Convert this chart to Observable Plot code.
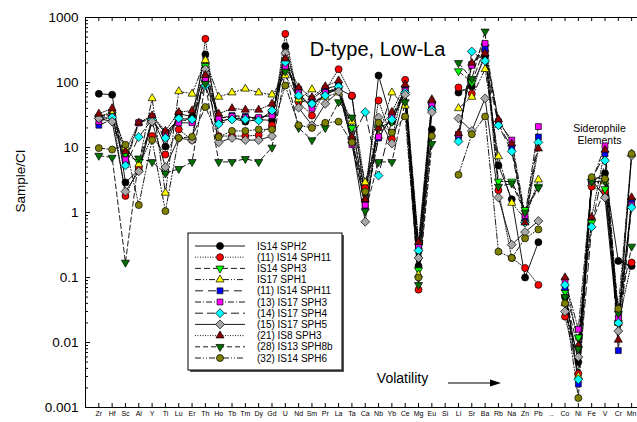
<!DOCTYPE html>
<html>
<head>
<meta charset="utf-8">
<script src="https://cdn.jsdelivr.net/npm/d3@7"></script>
<script src="https://cdn.jsdelivr.net/npm/@observablehq/plot@0.6"></script>
<style>
  body { margin: 0; background: #fff; }
  #chart { position: relative; width: 637px; height: 422px; font-family: "Liberation Sans", Arial, sans-serif; }
  #chart svg { position: absolute; left: 0; top: 0; }
</style>
</head>
<body>
<div id="chart"></div>
<script>
// Element order (volatility increases to the right); ".." separates the siderophiles
const elements = ["Zr","Hf","Sc","Al","Y","Ti","Lu","Er","Th","Ho","Tb","Tm","Dy","Gd","U","Nd","Sm","Pr","La","Ta","Ca","Nb","Yb","Ce","Mg","Eu","Si","Li","Sr","Ba","Rb","Na","Zn","Pb","..","Co","Ni","Fe","V","Cr","Mn"];

// CI-normalised abundances, one array per particle (null = not measured)
const is14sph2   = [67, 65, 2.9, 4.5, 29, 10.4, 33, 30, 270, 25, 28, 25, 27, 26, 360, 60, 45, 65, 80, 62, 1.5, 128, 25, 70, 0.15, 19, null, 70, 87, 250, 5.3, 1.6, 0.1, 0.35, null, 0.05, 0.005, 3.0, 4, 0.18, 0.15];
const is14sph11a = [30, 35, 1.8, 5, 15, 7.8, 19, 13, 470, 15, 15, 15, 15.5, 22, 560, 50, 31, 75, 160, 63, 2.4, 53, 13.5, 110, 0.065, 40, null, 84, 67, 300, 2.2, 0.2, 0.14, 0.077, null, 0.025, 0.0033, 2.5, 2.1, 0.02, 0.17];
const is14sph3   = [28, 32, 8, 6, 25, 15, 28, 27, 180, 25, 28, 28, 28, 33, 220, 55, 45, 70, 80, 20, 2, 20, 25, 80, 0.13, 45, null, 150, 100, 350, 3, 3, 1.1, 2.5, null, 0.06, 0.012, 0.7, 2.3, 0.02, 1.5];
const is17sph1   = [30, 33, 10, 5.5, 57, 2, 73, 67, 220, 60, 70, 80, 70, 65, 128, 55, 78, 60, 70, 25, 2.9, 15, 70, 44, 0.11, 55, null, 40, 60, 160, 7.3, 1.4, 0.8, 3.2, null, 0.04, 0.003, 2.8, 3, 0.02, 8];
const is14sph11b = [22, 27, 5.5, 24, 28, 17, 27, 25, 120, 28, 31, 30, 28, 33, 190, 78, 55, 80, 90, 13, 1.2, 14, 30, 80, 0.28, 42, null, 14.6, 190, 330, 22.5, 10, 0.8, 14.5, null, 0.07, 0.0023, 3.2, 8, 0.0075, 1.4];
const is17sph3   = [25, 30, 6.5, 24, 30, 17, 24, 24, 115, 28, 30, 29, 29, 31, 176, 70, 40, 70, 85, 11, 1.3, 14.6, 30, 75, 0.3, 47, null, 16, 183, 400, 25, 13, 0.9, 21, null, 0.09, 0.016, 3.0, 10.6, 0.024, 1.3];
const is17sph4   = [28, 29, 5.3, 14.5, 27, 14, 28, 27, 90, 23, 27, 27, 26, 37, 205, 63, 47, 63, 87, 14, 35, 3.7, 27, 70, 0.26, 38, null, 12.4, 300, 215, 22, 8.7, 0.7, 12, null, 0.077, 0.0027, 0.6, 6.3, 0.02, 1.2];
const is17sph5   = [28, 25, 2.1, 4.3, 25, 5, 14, 13, 160, 12, 14, 13, 13, 15, 283, 41, 22, 47, 73, 12, 0.72, 29, 11.5, 65, 0.2, 35, null, 28, 18, 57, 1.7, 0.32, 0.5, 0.74, null, 0.03, 0.006, 3.2, 1.7, 0.015, 7.5];
const is8sph3    = [33, 40, 8.7, 24, 31, 18, 35, 37, 130, 33, 40, 38, 38, 47, 233, 84, 59, 87, 107, 14.5, 1.6, 20, 35, 93, 0.35, 53, null, 16.5, 200, 280, 27, 11.5, 0.7, 9.6, null, 0.1, 0.009, 0.85, 9.2, 0.011, 1.7];
const is13sph8b  = [7.5, 7, 0.17, 6.8, 6, 4, 4.7, 6, 96, 6, 6, 6.7, 6, 10, 148, 20, 13, 20, 50, 29, 1.05, 6, 6, 50, 0.077, 11.4, null, 200, 114, 610, 2.5, 2.8, 1.0, 2.4, null, 0.05, 0.008, 3.0, 3, 0.028, 0.3];
const is14sph6   = [9.8, 9.3, 11, 1.3, 13, 1.05, 14, 14.6, 42, 14.5, 18, 18, 19, 19, 90, 22, 20, 24, 25, 12, 2.1, 24, 17, 30, 0.1, 15, null, 3.8, 16, 30, 0.25, 0.2, 0.4, 0.55, null, 0.04, 0.0014, 3.5, 3.3, 0.033, 8];

const sampleNames = ["IS14 SPH2", "(11) IS14 SPH11", "IS14 SPH3", "IS17 SPH1", "(11) IS14 SPH11", "(13) IS17 SPH3", "(14) IS17 SPH4", "(15) IS17 SPH5", "(21) IS8 SPH3", "(28) IS13 SPH8b", "(32) IS14 SPH6"];
const sampleValues = [is14sph2, is14sph11a, is14sph3, is17sph1, is14sph11b, is17sph3, is17sph4, is17sph5, is8sph3, is13sph8b, is14sph6];

const yTickValues = [1000, 100, 10, 1, 0.1, 0.01, 0.001];

// ---- styling ----
const triangleDown = {
  draw(context, size) {
    const y = Math.sqrt(size / (3 * Math.sqrt(3)));
    context.moveTo(0, 2 * y);
    context.lineTo(-Math.sqrt(3) * y, -y);
    context.lineTo(Math.sqrt(3) * y, -y);
    context.closePath();
  }
};
const markerFill   = ["#000000", "#ff0000", "#00ff00", "#ffff00", "#0000ff", "#ff00ff", "#00ffff", "#a8a8a8", "#8b0000", "#007000", "#808000"];
const markerSymbol = [d3.symbolCircle, d3.symbolCircle, triangleDown, d3.symbolTriangle, d3.symbolSquare, d3.symbolSquare, d3.symbolDiamond2, d3.symbolDiamond2, d3.symbolTriangle, triangleDown, d3.symbolCircle];
const markerR      = [3.5, 3.5, 3.0, 3.0, 3.3, 3.3, 4.0, 4.0, 3.0, 3.0, 3.5];
const lineDash     = [null, "1,1.5", "6,3", "6,2,1,2,1,2", "8,5", "6,2,1,2", "8,4", null, "1,1.5", "5,3", "6,2,1,2,1,2"];

const font = '"Liberation Sans", Arial, sans-serif';
const W = 637, H = 422;
const mL = 85, mR = 0, mT = 17, mB = 15;
const frameW = W - mL - mR, frameH = H - mT - mB;

const rows = sampleValues.map((vals, k) => vals.map((v, i) => ({k, i: i + 1, v})));
const positions = elements.map((_, i) => i + 1);
const minorTicks = [];
for (let e = -3; e < 3; e++) for (let m = 2; m <= 9; m++) minorTicks.push(m * Math.pow(10, e));

const marks = [
  // frame: left, top and bottom edges
  Plot.ruleY([0.001, 1000], {stroke: "#000", strokeWidth: 1}),
  Plot.ruleX([0], {stroke: "#000", strokeWidth: 1}),
  // inward ticks
  Plot.ruleX(positions, {x: d => d, insetTop: frameH - 4, stroke: "#000"}),
  Plot.ruleX(positions, {x: d => d, insetBottom: frameH - 4, stroke: "#000"}),
  Plot.ruleY(yTickValues, {y: d => d, insetRight: frameW - 5, stroke: "#000"}),
  Plot.ruleY(minorTicks, {y: d => d, insetRight: frameW - 3, stroke: "#000"}),
  // tick labels
  Plot.text(elements, {x: (d, i) => i + 1, text: d => d, frameAnchor: "bottom", dy: 8, fontSize: 7, fill: "#000"}),
  Plot.text(yTickValues, {y: d => d, text: d => String(d), frameAnchor: "left", textAnchor: "end", dx: -7, fontSize: 13.5, fill: "#000"}),
  Plot.text(["Sample/CI"], {frameAnchor: "left", dx: -65, rotate: -90, fontSize: 13.5, fill: "#000"}),
  // annotations
  Plot.text(["D-type, Low-La"], {frameAnchor: "top", dx: 16, dy: 24, fontSize: 20, fill: "#000"}),
  Plot.text(["Siderophile\nElements"], {frameAnchor: "top-right", dx: -38, dy: 106, textAnchor: "middle", lineHeight: 1.15, fontSize: 10.5, fill: "#000"}),
  Plot.text(["Volatility"], {frameAnchor: "bottom", dx: 41, dy: -25, fontSize: 14, fill: "#000"})
];

rows.forEach((r, k) => {
  marks.push(Plot.line(r, {x: "i", y: "v", stroke: "#000", strokeWidth: 0.9, strokeDasharray: lineDash[k]}));
});
rows.forEach((r, k) => {
  marks.push(Plot.dot(r, {x: "i", y: "v", symbol: markerSymbol[k], r: markerR[k], fill: markerFill[k], stroke: "#000", strokeWidth: 0.7}));
});

const chart = Plot.plot({
  width: W,
  height: H,
  marginLeft: mL,
  marginRight: mR,
  marginTop: mT,
  marginBottom: mB,
  style: {fontFamily: font, background: "#fff", overflow: "visible"},
  x: {type: "linear", domain: [0, 41.44], axis: null},
  y: {type: "log", domain: [0.001, 1000], axis: null},
  marks
});
document.getElementById("chart").appendChild(chart);

// ---- legend box and volatility arrow ----
const overlay = d3.select("#chart").append("svg")
  .attr("width", W).attr("height", H)
  .style("font-family", font)
  .style("pointer-events", "none");

const lg = {x: 188, y: 233, w: 154, h: 137, row0: 246, rowStep: 11.2};
overlay.append("rect").attr("x", lg.x + 2).attr("y", lg.y + 2).attr("width", lg.w).attr("height", lg.h).attr("fill", "#555");
overlay.append("rect").attr("x", lg.x).attr("y", lg.y).attr("width", lg.w).attr("height", lg.h)
  .attr("fill", "#fff").attr("stroke", "#000").attr("stroke-width", 1);

sampleNames.forEach((name, k) => {
  const cy = lg.row0 + k * lg.rowStep;
  overlay.append("line").attr("x1", 195).attr("x2", 245).attr("y1", cy).attr("y2", cy)
    .attr("stroke", "#000").attr("stroke-width", 0.9).attr("stroke-dasharray", lineDash[k]);
  overlay.append("path")
    .attr("d", d3.symbol(markerSymbol[k], Math.PI * markerR[k] * markerR[k])())
    .attr("transform", `translate(220,${cy})`)
    .attr("fill", markerFill[k]).attr("stroke", "#000").attr("stroke-width", 0.7);
  overlay.append("text").attr("x", 257).attr("y", cy + 3.6)
    .attr("font-size", 10).attr("fill", "#000").text(name);
});

overlay.append("line").attr("x1", 448).attr("x2", 492).attr("y1", 383).attr("y2", 383)
  .attr("stroke", "#000").attr("stroke-width", 1.2);
overlay.append("path").attr("d", "M501,383 L490,379.5 L490,386.5 Z").attr("fill", "#000");
</script>
</body>
</html>
